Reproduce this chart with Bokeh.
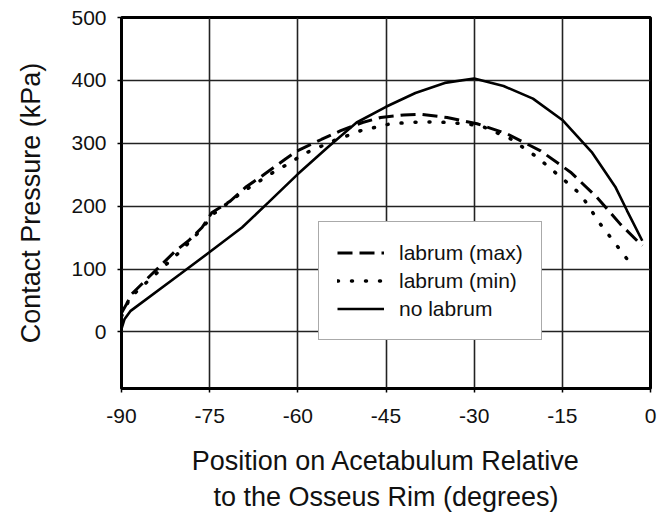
from bokeh.plotting import figure
from bokeh.models import Range1d, FixedTicker, Legend, LegendItem
from bokeh.embed import file_html
from bokeh.resources import INLINE

# Data (degrees, kPa)
x_max = [-90, -89.1, -88.3, -80.8, -78.6, -76.3, -74.6, -71.5, -68.9, -66.1, -62.1, -60.1,
         -56.0, -52.7, -49.0, -45.9, -42.0, -39.1, -34.6, -29.5, -24.4, -18.7, -13.6, -9.1, -5.1, -1.4]
y_max = [30, 45, 60, 129, 145, 166, 190, 208, 230, 248, 275, 288,
         306, 320, 333, 341, 345, 346, 341, 331, 315, 288, 254, 214, 171, 137]

x_min = [-90, -88.5, -80.0, -76.6, -74.3, -69.2, -63.8, -61.5, -59.0, -53.9, -49.3, -44.2,
         -39.1, -34.0, -28.9, -23.8, -19.3, -14.5, -11.9, -8.5, -4.8, -2.9]
y_min = [25, 55, 128, 161, 188, 224, 256, 268, 283, 304, 320, 331,
         334, 333, 328, 307, 278, 240, 219, 171, 126, 102]

x_no = [-90, -89.5, -88.5, -80, -75, -69.5, -65, -60, -55, -50, -45, -40, -35, -30,
        -25, -20, -15, -10, -6, -4, -1.4]
y_no = [5, 20, 33, 92, 127, 166, 206, 251, 293, 333, 358, 380, 396, 403,
        391, 371, 337, 286, 231, 193, 145]

x_ticks = [-90, -75, -60, -45, -30, -15, 0]
x_tick_labels = ["-90", "-75", "-60", "-45", "-30", "-15", "0"]
y_ticks = [0, 100, 200, 300, 400, 500]
labels = ["labrum (max)", "labrum (min)", "no labrum"]

FONT = "Liberation Sans"

p = figure(width=667, height=515, output_backend="svg", toolbar_location=None,
           x_range=Range1d(-90, 0), y_range=Range1d(-90, 500))
p.min_border_left = 121
p.min_border_right = 17
p.min_border_top = 17
p.min_border_bottom = 127
p.background_fill_color = "white"
p.border_fill_color = "white"
p.outline_line_color = "black"
p.outline_line_width = 3

p.xaxis.ticker = FixedTicker(ticks=x_ticks)
p.yaxis.ticker = FixedTicker(ticks=y_ticks)
p.xaxis.major_label_overrides = {t: s for t, s in zip(x_ticks, x_tick_labels)}
p.xgrid.ticker = FixedTicker(ticks=x_ticks)
p.ygrid.ticker = FixedTicker(ticks=y_ticks)
for g in (p.xgrid, p.ygrid):
    g.grid_line_color = "#222222"
    g.grid_line_width = 1.6
    g.grid_line_alpha = 1.0

for ax in (p.xaxis, p.yaxis):
    ax.axis_line_color = "black"
    ax.axis_line_width = 2
    ax.major_tick_line_color = "black"
    ax.major_tick_line_width = 1.5
    ax.major_tick_out = 4
    ax.major_tick_in = 0
    ax.minor_tick_line_color = None
    ax.major_label_text_font = FONT
    ax.major_label_text_font_size = "21px"
    ax.major_label_text_color = "#111111"
    ax.axis_label_text_font = FONT
    ax.axis_label_text_font_size = "27px"
    ax.axis_label_text_font_style = "normal"
    ax.axis_label_text_color = "#111111"

p.xaxis.major_label_standoff = 16
p.yaxis.major_label_standoff = 11
p.xaxis.axis_label = "Position on Acetabulum Relative\nto the Osseus Rim (degrees)"
p.yaxis.axis_label = "Contact Pressure (kPa)"
p.xaxis.axis_label_standoff = 20
p.yaxis.axis_label_standoff = 22

r_max = p.line(x_max, y_max, line_color="black", line_width=3, line_dash="15 7")
r_min = p.line(x_min, y_min, line_color="black", line_width=3.5, line_dash="1 13",
               line_cap="round")
r_no = p.line(x_no, y_no, line_color="black", line_width=2.6)

legend = Legend(items=[LegendItem(label=labels[0], renderers=[r_max]),
                       LegendItem(label=labels[1], renderers=[r_min]),
                       LegendItem(label=labels[2], renderers=[r_no])],
                location=(197, 48))
legend.label_text_font = FONT
legend.label_text_font_size = "21px"
legend.label_text_color = "#111111"
legend.border_line_color = "#555555"
legend.border_line_width = 1.5
legend.background_fill_color = "white"
legend.background_fill_alpha = 1.0
legend.padding = 18
legend.spacing = 3
legend.glyph_width = 47
legend.glyph_height = 25
legend.label_height = 25
legend.label_standoff = 15
legend.margin = 0
p.add_layout(legend)

open("out.html", "w").write(file_html(p, INLINE))
